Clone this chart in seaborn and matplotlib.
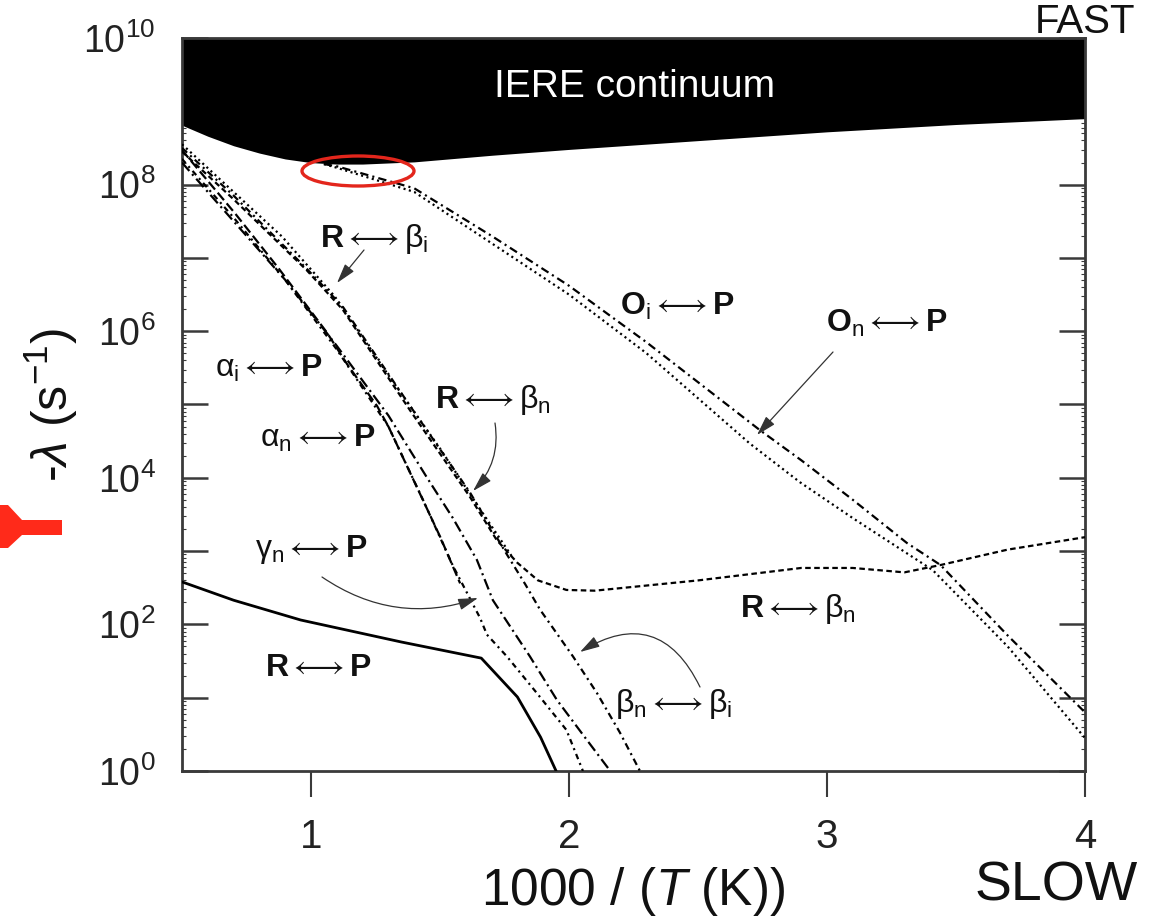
import numpy as np
import pandas as pd
import matplotlib
matplotlib.use("Agg")
import matplotlib.pyplot as plt
import seaborn as sns
from matplotlib.patches import Ellipse, Polygon
from matplotlib.ticker import FixedLocator, FixedFormatter, LogLocator, NullFormatter

# ---------------- data (x = 1000/T, values as log10 of -lambda in s^-1) ----------------
iere_x   = [0.5, 0.6, 0.7, 0.8, 0.9, 1.0, 1.1, 1.2, 1.4, 1.7, 2.0, 2.5, 3.0, 3.5, 4.0]
iere_log = [8.81, 8.66, 8.53, 8.43, 8.35, 8.30, 8.28, 8.28, 8.31, 8.40, 8.48, 8.60, 8.72, 8.82, 8.90]

rp_x   = [0.5, 0.7, 0.96, 1.35, 1.66, 1.80, 1.89, 1.95]
rp_log = [2.58, 2.33, 2.06, 1.76, 1.54, 1.01, 0.46, 0.0]

ai_x   = [0.5, 0.705, 0.876, 1.062, 1.14, 1.256, 1.3, 1.4, 1.5, 1.578]
ai_log = [8.47, 7.61, 6.85, 5.98, 5.55, 4.98, 4.70, 3.95, 3.20, 2.56]

gn_x   = [0.5, 0.7, 0.9, 1.1, 1.3, 1.434, 1.55, 1.655, 1.682, 1.76, 1.876, 1.99, 2.054]
gn_log = [8.35, 7.55, 6.70, 5.75, 4.70, 3.70, 2.80, 2.09, 1.86, 1.56, 1.06, 0.56, 0.0]

an_x   = [0.5, 0.7, 0.9, 1.1, 1.3, 1.45, 1.55, 1.643, 1.705, 1.849, 1.953, 2.07, 2.16]
an_log = [8.30, 7.50, 6.70, 5.80, 4.85, 4.00, 3.45, 2.88, 2.33, 1.56, 0.97, 0.42, 0.0]

rbi_x   = [0.5, 0.7, 0.888, 1.093, 1.3, 1.5, 1.65, 1.78]
rbi_log = [8.55, 7.90, 7.29, 6.47, 5.40, 4.40, 3.60, 2.92]

rbn_x   = [0.5, 0.7, 0.984, 1.124, 1.384, 1.616, 1.72, 1.80, 1.88, 1.99, 2.1, 2.5, 2.9, 3.1, 3.3, 3.44, 3.7, 4.0]
rbn_log = [8.45, 7.80, 6.83, 6.29, 4.92, 3.74, 3.15, 2.84, 2.60, 2.47, 2.46, 2.60, 2.77, 2.77, 2.71, 2.81, 3.02, 3.19]

bnbi_x   = [0.5, 0.7, 0.984, 1.124, 1.384, 1.616, 1.76, 1.83, 1.888, 2.016, 2.109, 2.198, 2.275]
bnbi_log = [8.50, 7.85, 6.85, 6.33, 4.98, 3.80, 2.95, 2.55, 2.20, 1.56, 1.06, 0.52, 0.0]

oi_x   = [1.05, 1.1, 1.4, 1.7, 2.0, 2.3, 2.74, 2.9, 3.1, 3.31, 3.44, 3.7, 4.0]
oi_log = [8.28, 8.25, 7.95, 7.30, 6.62, 5.85, 4.65, 4.24, 3.70, 3.11, 2.81, 1.85, 0.80]

on_x   = [1.05, 1.1, 1.4, 1.7, 2.0, 2.3, 2.7, 2.895, 3.1, 3.41, 3.7, 4.0]
on_log = [8.28, 8.23, 7.90, 7.20, 6.50, 5.70, 4.47, 3.94, 3.45, 2.74, 1.70, 0.45]

y_tick_exps = list(range(0, 11))
x_ticks = [1, 2, 3, 4]

# ---------------- style ----------------
sns.set_style("ticks")
plt.rcParams["font.family"] = ["Liberation Sans", "DejaVu Sans"]
plt.rcParams["mathtext.fontset"] = "custom"
plt.rcParams["mathtext.rm"] = "Liberation Sans"
plt.rcParams["mathtext.it"] = "Liberation Sans:italic"
plt.rcParams["mathtext.bf"] = "Liberation Sans:bold"
plt.rcParams["mathtext.fallback"] = "stixsans"
plt.rcParams["lines.scale_dashes"] = False

W, H = 1157, 921
fig = plt.figure(figsize=(W / 100, H / 100), dpi=100)
L, R, T, B = 182, 1085, 38, 771
ax = fig.add_axes([L / W, 1 - B / H, (R - L) / W, (B - T) / H])
ax.set_yscale("log")
ax.set_xlim(0.5, 4.0)
ax.set_ylim(1e0, 1e10)

# continuum
iere_y = [10 ** v for v in iere_log]
ax.fill_between(iere_x, iere_y, 1e10, color="black", lw=0, zorder=1)

series = [
    (rp_x, rp_log, "-", 2.0),
    (ai_x, ai_log, (0, (7, 3)), 1.6),
    (gn_x, gn_log, (0, (4, 3, 1.5, 3)), 1.6),
    (an_x, an_log, (0, (8, 3, 1.5, 3)), 1.6),
    (rbi_x, rbi_log, (0, (1.5, 2.5)), 1.6),
    (rbn_x, rbn_log, (0, (4, 2.5)), 1.6),
    (bnbi_x, bnbi_log, (0, (5, 3, 1.5, 3)), 1.6),
    (oi_x, oi_log, (0, (6, 3, 1.5, 3)), 1.6),
    (on_x, on_log, (0, (1.5, 2.5)), 1.6),
]
for xs, lg, ls, lw in series:
    df = pd.DataFrame({"x": xs, "y": [10 ** v for v in lg]})
    sns.lineplot(data=df, x="x", y="y", ax=ax, color="black", lw=lw,
                 linestyle=ls, estimator=None, errorbar=None, zorder=3)

# ---------------- axes styling ----------------
for s in ax.spines.values():
    s.set_visible(True)
    s.set_color("#3a3a3a")
    s.set_linewidth(2.0)

ax.yaxis.set_major_locator(FixedLocator([10.0 ** e for e in y_tick_exps]))
ax.yaxis.set_major_formatter(FixedFormatter(
    [r"$10^{%d}$" % e if e % 2 == 0 else "" for e in y_tick_exps]))
ax.yaxis.set_minor_locator(LogLocator(base=10, subs=np.arange(2, 10), numticks=20))
ax.yaxis.set_minor_formatter(NullFormatter())
ax.set_xticks(x_ticks)
ax.set_xticklabels([str(v) for v in x_ticks])

ax.tick_params(axis="y", which="major", direction="in", length=18.5, width=1.8,
               left=True, right=True, labelsize=27, pad=19, colors="#3a3a3a",
               labelcolor="#222222")
ax.tick_params(axis="y", which="minor", direction="in", length=3, width=0.8,
               left=True, right=True, colors="#3a3a3a")
ax.tick_params(axis="x", which="major", direction="out", length=18.5, width=1.5,
               bottom=True, top=False, labelsize=29, pad=15, colors="#3a3a3a",
               labelcolor="#222222")
ax.tick_params(axis="x", which="minor", bottom=False, top=False)

ax.set_xlabel(r"1000 / ($T$ (K))", fontsize=37, color="#111111")
ax.xaxis.set_label_coords(0.5, -0.128)
ax.set_ylabel(r"-$\lambda$ (s$^{-1}$)", fontsize=36, color="#111111")
ax.yaxis.set_label_coords(-0.113, 0.5)


def fp(xp, yp):
    return (xp, H - yp)


lab_kw = dict(xycoords="figure pixels", fontsize=23, ha="left", va="baseline",
              color="#111111", zorder=5)
A = r"\longleftrightarrow"
ax.annotate(r"$\mathbf{R}" + A + r"\mathrm{\beta}_\mathrm{i}$", xy=fp(320, 247), **lab_kw)
ax.annotate(r"$\mathbf{O}_\mathrm{i}" + A + r"\mathbf{P}$", xy=fp(620, 315), **lab_kw)
ax.annotate(r"$\mathbf{O}_\mathrm{n}" + A + r"\mathbf{P}$", xy=fp(826, 332), **lab_kw)
ax.annotate(r"$\mathrm{\alpha}_\mathrm{i}" + A + r"\mathbf{P}$", xy=fp(215, 377), **lab_kw)
ax.annotate(r"$\mathbf{R}" + A + r"\mathrm{\beta}_\mathrm{n}$", xy=fp(435, 408), **lab_kw)
ax.annotate(r"$\mathrm{\alpha}_\mathrm{n}" + A + r"\mathbf{P}$", xy=fp(260, 447), **lab_kw)
ax.annotate(r"$\mathrm{\gamma}_\mathrm{n}" + A + r"\mathbf{P}$", xy=fp(255, 557), **lab_kw)
ax.annotate(r"$\mathbf{R}" + A + r"\mathrm{\beta}_\mathrm{n}$", xy=fp(740, 617), **lab_kw)
ax.annotate(r"$\mathbf{R}" + A + r"\mathbf{P}$", xy=fp(265, 676), **lab_kw)
ax.annotate(r"$\mathrm{\beta}_\mathrm{n}" + A + r"\mathrm{\beta}_\mathrm{i}$", xy=fp(615, 712), **lab_kw)

ax.annotate("IERE continuum", xy=fp(635, 87), xycoords="figure pixels", fontsize=28,
            ha="center", va="center", color="white", zorder=5)

# pointer arrows
arr = dict(arrowstyle="-|>,head_length=0.55,head_width=0.16", color="#333333",
           lw=0.9, shrinkA=0, shrinkB=0, mutation_scale=22)
ax.annotate("", xy=fp(337, 283), xytext=fp(364, 250), xycoords="figure pixels",
            textcoords="figure pixels", arrowprops=dict(arr, connectionstyle="arc3,rad=0"))
ax.annotate("", xy=fp(473, 491), xytext=fp(495, 423), xycoords="figure pixels",
            textcoords="figure pixels", arrowprops=dict(arr, connectionstyle="arc3,rad=-0.25"))
ax.annotate("", xy=fp(757, 435), xytext=fp(833, 352), xycoords="figure pixels",
            textcoords="figure pixels", arrowprops=dict(arr, connectionstyle="arc3,rad=0"))
ax.annotate("", xy=fp(478, 598), xytext=fp(322, 577), xycoords="figure pixels",
            textcoords="figure pixels", arrowprops=dict(arr, connectionstyle="arc3,rad=0.25"))
ax.annotate("", xy=fp(580, 652), xytext=fp(700, 687), xycoords="figure pixels",
            textcoords="figure pixels", arrowprops=dict(arr, connectionstyle="arc3,rad=0.55"))

# red ellipse highlight (axes coords)
ell = Ellipse(((358 - L) / (R - L), (B - 171) / (B - T)), 112 / (R - L), 30 / (B - T),
              transform=ax.transAxes, fill=False, edgecolor="#e3261c", lw=2.4, zorder=6,
              clip_on=False)
ax.add_patch(ell)

# red pointer mark at left edge
red_pts = [(0, 505), (8, 505), (22, 520), (62, 520), (62, 535), (22, 535), (8, 548), (0, 548)]
fig.patches.append(Polygon([(x / W, 1 - y / H) for x, y in red_pts], closed=True,
                           transform=fig.transFigure, facecolor="#ff2a1a", edgecolor="none"))

# corner words
fig.text(975 / W, 1 - 900 / H, "SLOW", fontsize=40, ha="left", va="baseline", color="#111111")
fig.text(1035 / W, 1 - 33 / H, "FAST", fontsize=29, ha="left", va="baseline", color="#111111")

fig.savefig("out.png", dpi=100)
